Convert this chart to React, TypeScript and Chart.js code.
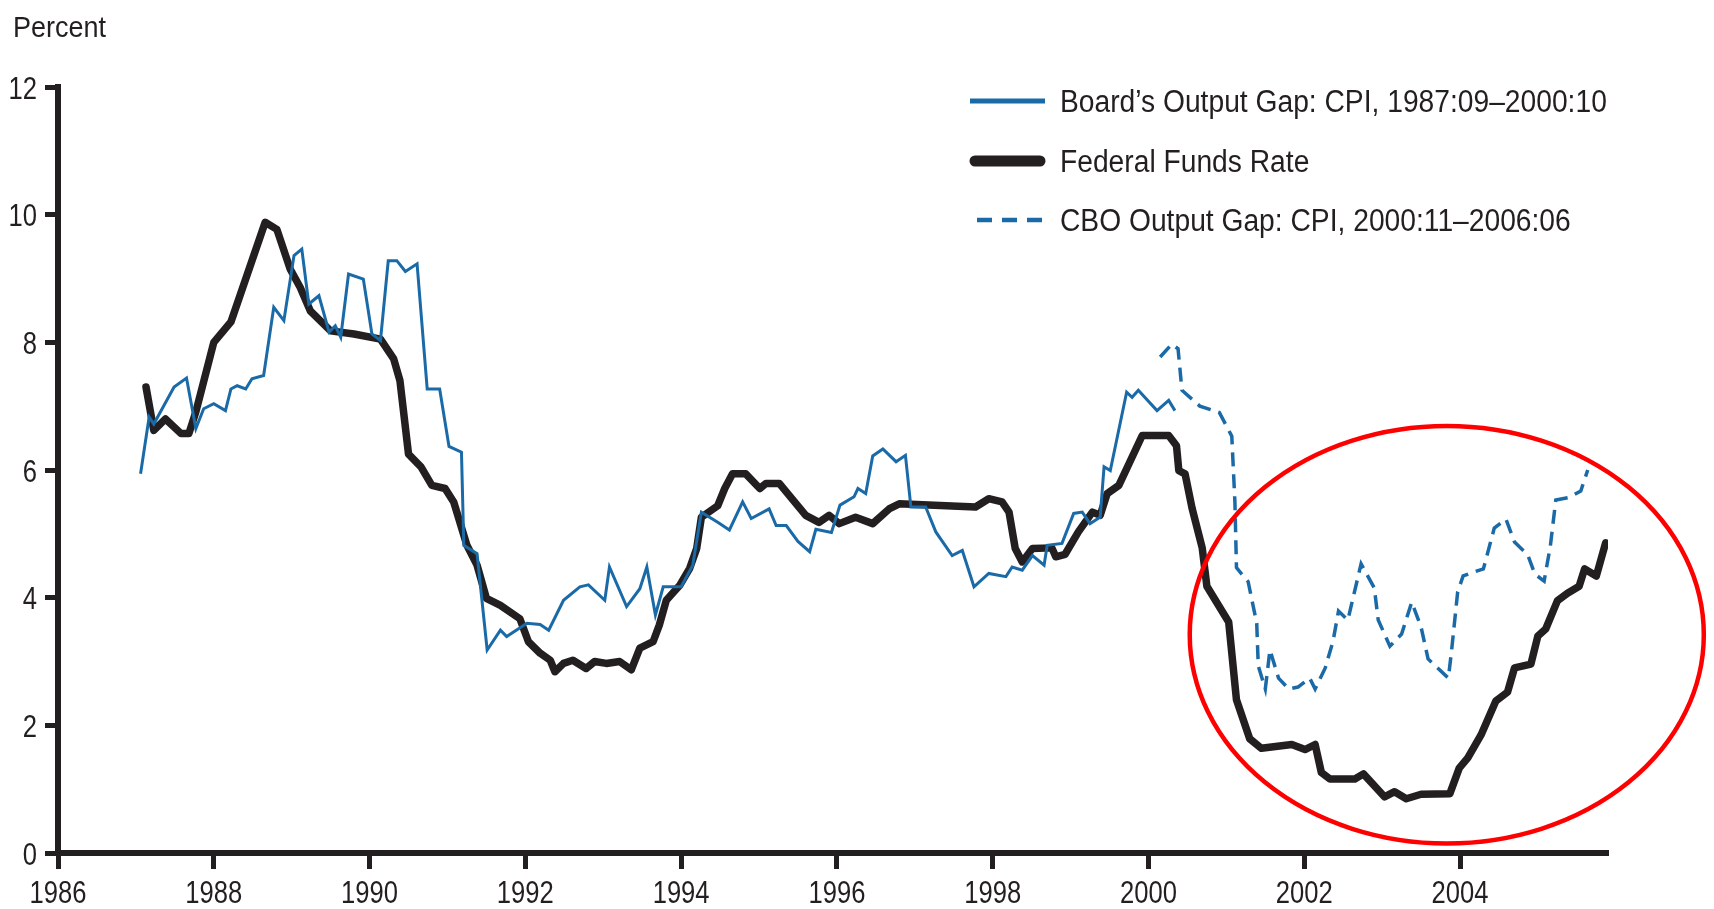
import React, { useEffect, useRef } from "react";
import { Chart, registerables } from "chart.js";

Chart.register(...registerables);

// ---------------- data ----------------
const fedFundsYears = [
  1987.13, 1987.23, 1987.38, 1987.58, 1987.68, 1987.77, 1988.0, 1988.22, 1988.66, 1988.81,
  1988.98, 1989.11, 1989.24, 1989.5, 1989.8, 1990.14, 1990.31, 1990.39, 1990.5, 1990.66,
  1990.8, 1990.97, 1991.08, 1991.25, 1991.38, 1991.5, 1991.68, 1991.93, 1992.04, 1992.19,
  1992.32, 1992.38, 1992.49, 1992.61, 1992.78, 1992.89, 1993.04, 1993.21, 1993.36, 1993.47,
  1993.64, 1993.72, 1993.81, 1993.98, 1994.11, 1994.2, 1994.26, 1994.47, 1994.56, 1994.66,
  1994.83, 1995.01, 1995.09, 1995.26, 1995.39, 1995.6, 1995.77, 1995.9, 1996.03, 1996.24,
  1996.46, 1996.67, 1996.8, 1997.78, 1997.95, 1998.12, 1998.21, 1998.29, 1998.38, 1998.51,
  1998.76, 1998.81, 1998.93, 1999.1, 1999.28, 1999.38, 1999.47, 1999.62, 1999.92, 2000.26,
  2000.36, 2000.39, 2000.47, 2000.56, 2000.69, 2000.75, 2001.03, 2001.13, 2001.3, 2001.45,
  2001.84, 2002.01, 2002.14, 2002.22, 2002.33, 2002.65, 2002.76, 2003.03, 2003.16, 2003.31,
  2003.5, 2003.87, 2003.99, 2004.1, 2004.27, 2004.46, 2004.61, 2004.7, 2004.91, 2005.0,
  2005.1, 2005.25, 2005.38, 2005.53, 2005.6, 2005.75, 2005.87,
];
const fedFundsRates = [
  7.3, 6.62, 6.8, 6.57, 6.57, 6.91, 8.0, 8.32, 9.88, 9.77,
  9.15, 8.86, 8.49, 8.18, 8.13, 8.05, 7.74, 7.4, 6.25, 6.05,
  5.76, 5.71, 5.5, 4.82, 4.51, 3.99, 3.88, 3.67, 3.31, 3.13,
  3.02, 2.84, 2.97, 3.02, 2.89, 3.0, 2.97, 3.0, 2.87, 3.21,
  3.31, 3.57, 3.96, 4.19, 4.46, 4.77, 5.26, 5.44, 5.71, 5.94,
  5.94, 5.71, 5.79, 5.79, 5.6, 5.29, 5.18, 5.29, 5.16, 5.26,
  5.16, 5.39, 5.47, 5.42, 5.55, 5.5, 5.34, 4.77, 4.56, 4.77,
  4.78, 4.64, 4.68, 5.03, 5.34, 5.29, 5.63, 5.76, 6.54, 6.54,
  6.38, 5.99, 5.94, 5.4, 4.78, 4.18, 3.62, 2.4, 1.79, 1.64,
  1.7, 1.62, 1.7, 1.26, 1.16, 1.16, 1.24, 0.88, 0.96, 0.85,
  0.92, 0.93, 1.33, 1.49, 1.85, 2.38, 2.52, 2.9, 2.96, 3.4,
  3.51, 3.95, 4.07, 4.18, 4.45, 4.34, 4.86,
];

const boardGapYears = [
  1987.06, 1987.17, 1987.23, 1987.49, 1987.65, 1987.77, 1987.87, 1988.0, 1988.15, 1988.22,
  1988.3, 1988.41, 1988.49, 1988.64, 1988.77, 1988.9, 1989.03, 1989.13, 1989.22, 1989.35,
  1989.48, 1989.56, 1989.63, 1989.73, 1989.92, 1990.03, 1990.14, 1990.24, 1990.35, 1990.46,
  1990.61, 1990.74, 1990.9, 1991.02, 1991.18, 1991.21, 1991.38, 1991.51, 1991.68, 1991.76,
  1992.02, 1992.19, 1992.3, 1992.49, 1992.7, 1992.81, 1993.02, 1993.08, 1993.3, 1993.47,
  1993.56, 1993.67, 1993.77, 1994.0, 1994.15, 1994.26, 1994.47, 1994.62, 1994.79, 1994.9,
  1995.13, 1995.22, 1995.35, 1995.5, 1995.65, 1995.73, 1995.93, 1996.04, 1996.22, 1996.27,
  1996.37, 1996.46, 1996.59, 1996.76, 1996.88, 1996.95, 1997.14, 1997.27, 1997.48, 1997.61,
  1997.76, 1997.95, 1998.17, 1998.25, 1998.38, 1998.51, 1998.66, 1998.7, 1998.89, 1999.04,
  1999.15, 1999.25, 1999.38, 1999.43, 1999.51, 1999.72, 1999.79, 1999.87, 2000.11, 2000.26,
  2000.34,
];
const boardGapRates = [
  5.94, 6.83, 6.72, 7.3, 7.44, 6.65, 6.96, 7.04, 6.93, 7.27,
  7.32, 7.27, 7.43, 7.48, 8.55, 8.34, 9.36, 9.46, 8.6, 8.73,
  8.16, 8.26, 8.08, 9.07, 8.99, 8.13, 8.03, 9.28, 9.28, 9.11,
  9.23, 7.27, 7.27, 6.37, 6.28, 4.82, 4.69, 3.18, 3.49, 3.39,
  3.6, 3.58, 3.49, 3.96, 4.17, 4.2, 3.96, 4.48, 3.86, 4.14,
  4.48, 3.73, 4.17, 4.17, 4.51, 5.34, 5.18, 5.06, 5.5, 5.24,
  5.39, 5.13, 5.13, 4.88, 4.72, 5.07, 5.02, 5.45, 5.58, 5.71,
  5.63, 6.22, 6.33, 6.13, 6.23, 5.42, 5.42, 5.03, 4.66, 4.74,
  4.17, 4.38, 4.33, 4.48, 4.43, 4.66, 4.51, 4.82, 4.85, 5.32,
  5.34, 5.16, 5.26, 6.05, 5.99, 7.22, 7.14, 7.25, 6.93, 7.09,
  6.93,
];

const cboGapYears = [
  2000.15, 2000.3, 2000.38, 2000.43, 2000.66, 2000.91, 2001.07, 2001.11, 2001.13, 2001.28,
  2001.39, 2001.41, 2001.5, 2001.56, 2001.67, 2001.8, 2001.92, 2002.07, 2002.14, 2002.27,
  2002.37, 2002.44, 2002.56, 2002.73, 2002.9, 2002.95, 2003.1, 2003.25, 2003.38, 2003.5,
  2003.59, 2003.85, 2003.89, 2003.97, 2004.04, 2004.17, 2004.3, 2004.44, 2004.59, 2004.7,
  2004.87, 2004.96, 2005.08, 2005.16, 2005.23, 2005.4, 2005.55, 2005.64,
];
const cboGapRates = [
  7.77, 7.97, 7.9, 7.25, 7.0, 6.9, 6.53, 5.5, 4.47, 4.25,
  3.6, 2.93, 2.57, 3.18, 2.74, 2.57, 2.6, 2.74, 2.57, 2.9,
  3.32, 3.79, 3.65, 4.53, 4.15, 3.65, 3.24, 3.43, 3.93, 3.54,
  3.04, 2.74, 3.15, 4.09, 4.34, 4.4, 4.45, 5.09, 5.23, 4.87,
  4.67, 4.37, 4.26, 4.81, 5.53, 5.57, 5.67, 6.0,
];

const xTickYears = [1986, 1988, 1990, 1992, 1994, 1996, 1998, 2000, 2002, 2004];
const yTickValues = [0, 2, 4, 6, 8, 10, 12];
const seriesLabels = [
  "Board\u2019s Output Gap: CPI, 1987:09\u20132000:10",
  "Federal Funds Rate",
  "CBO Output Gap: CPI, 2000:11\u20132006:06",
];
const yAxisTitle = "Percent";
// highlighted region (data coordinates)
const highlightCenter = [2003.83, 3.42];
const highlightRadius = [3.3, 3.27];

// ---------------- styles ----------------
const INK = "#231f20";
const BLUE = "#1b6aa8";
const RED = "#ff0000";
const FONT = "'Liberation Sans', Arial, sans-serif";
const LEGEND_SQUEEZE = 0.91;
const TICK_SQUEEZE = 0.8;

const toPoints = (xs: number[], ys: number[]) => xs.map((x, i) => ({ x, y: ys[i] }));

const legendStyles = [
  { color: BLUE, width: 5, dash: [] as number[], cap: "butt" as CanvasLineCap, x0: 970, x1: 1045 },
  { color: INK, width: 11, dash: [] as number[], cap: "round" as CanvasLineCap, x0: 975, x1: 1040 },
  { color: BLUE, width: 4.5, dash: [15, 10], cap: "butt" as CanvasLineCap, x0: 977, x1: 1045 },
];

const drawSqueezedText = (ctx: CanvasRenderingContext2D, text: string, x: number, y: number, squeeze: number) => {
  ctx.save();
  ctx.translate(x, y);
  ctx.scale(squeeze, 1);
  ctx.fillText(text, 0, 0);
  ctx.restore();
};

const overlayPlugin = {
  id: "overlay",
  afterDraw(chart: any) {
    const { ctx, scales } = chart;
    const xs = scales.x;
    const ys = scales.y;
    ctx.save();

    // tick labels (condensed), positioned by the chart's scales
    ctx.fillStyle = INK;
    ctx.font = `32px ${FONT}`;
    ctx.textBaseline = "alphabetic";
    ctx.textAlign = "center";
    xs.ticks.forEach((t: any) => {
      drawSqueezedText(ctx, String(t.value), xs.getPixelForValue(t.value), xs.bottom - 6, TICK_SQUEEZE);
    });
    ctx.textAlign = "right";
    ys.ticks.forEach((t: any) => {
      drawSqueezedText(ctx, String(t.value), ys.right - 21, ys.getPixelForValue(t.value) + 11.5, TICK_SQUEEZE);
    });

    // red ellipse
    const cx = xs.getPixelForValue(highlightCenter[0]);
    const cy = ys.getPixelForValue(highlightCenter[1]);
    const rx = xs.getPixelForValue(highlightCenter[0] + highlightRadius[0]) - cx;
    const ry = cy - ys.getPixelForValue(highlightCenter[1] + highlightRadius[1]);
    ctx.beginPath();
    ctx.ellipse(cx, cy, rx, ry, 0, 0, Math.PI * 2);
    ctx.strokeStyle = RED;
    ctx.lineWidth = 4.5;
    ctx.stroke();

    // axis title
    ctx.fillStyle = INK;
    ctx.font = `30px ${FONT}`;
    ctx.textAlign = "left";
    ctx.textBaseline = "alphabetic";
    drawSqueezedText(ctx, yAxisTitle, 13, 37, 0.9);

    // legend
    const rowY = [101, 161, 220];
    seriesLabels.forEach((label, i) => {
      const s = legendStyles[i];
      ctx.beginPath();
      ctx.setLineDash(s.dash);
      ctx.lineCap = s.cap;
      ctx.lineWidth = s.width;
      ctx.strokeStyle = s.color;
      ctx.moveTo(s.x0, rowY[i]);
      ctx.lineTo(s.x1, rowY[i]);
      ctx.stroke();
      ctx.setLineDash([]);
      ctx.fillStyle = INK;
      ctx.font = `31px ${FONT}`;
      drawSqueezedText(ctx, label, 1060, rowY[i] + 11, LEGEND_SQUEEZE);
    });
    ctx.restore();
  },
};

export default function App() {
  const canvasRef = useRef<HTMLCanvasElement | null>(null);

  useEffect(() => {
    if (!canvasRef.current) return;
    const chart = new Chart(canvasRef.current, {
      type: "line",
      data: {
        datasets: [
          {
            label: seriesLabels[0],
            data: toPoints(boardGapYears, boardGapRates),
            borderColor: BLUE,
            borderWidth: 3,
            pointRadius: 0,
            tension: 0,
            order: 0,
          },
          {
            label: seriesLabels[1],
            data: toPoints(fedFundsYears, fedFundsRates),
            borderColor: INK,
            borderWidth: 7.5,
            borderJoinStyle: "round",
            borderCapStyle: "round",
            pointRadius: 0,
            tension: 0,
            order: 2,
          },
          {
            label: seriesLabels[2],
            data: toPoints(cboGapYears, cboGapRates),
            borderColor: BLUE,
            borderWidth: 3.5,
            borderDash: [14, 8],
            pointRadius: 0,
            tension: 0,
            order: 1,
          },
        ],
      },
      options: {
        responsive: false,
        animation: false,
        devicePixelRatio: 1,
        layout: { padding: { left: 0, top: 87, right: 106, bottom: 0 } },
        plugins: {
          legend: { display: false },
          tooltip: { enabled: false },
          title: { display: false },
        },
        scales: {
          x: {
            type: "linear",
            min: 1986,
            max: 2005.9,
            afterBuildTicks: (scale: any) => {
              scale.ticks = xTickYears.map((v) => ({ value: v }));
            },
            afterFit: (scale: any) => {
              scale.height = 56;
            },
            border: { display: true, color: INK, width: 6 },
            grid: {
              display: true,
              drawOnChartArea: false,
              drawTicks: true,
              tickLength: 16,
              tickWidth: 5,
              tickColor: INK,
            },
            ticks: { display: false, autoSkip: false, maxRotation: 0 },
          },
          y: {
            type: "linear",
            min: 0,
            max: 12,
            afterBuildTicks: (scale: any) => {
              scale.ticks = yTickValues.map((v) => ({ value: v }));
            },
            afterFit: (scale: any) => {
              scale.width = 58;
            },
            border: { display: true, color: INK, width: 6 },
            grid: {
              display: true,
              drawOnChartArea: false,
              drawTicks: true,
              tickLength: 13,
              tickWidth: 5,
              tickColor: INK,
            },
            ticks: { display: false },
          },
        },
      },
      plugins: [overlayPlugin],
    } as any);
    return () => chart.destroy();
  }, []);

  return (
    <div style={{ position: "fixed", left: 0, top: 0, width: 1714, height: 909, background: "#fff" }}>
      <canvas ref={canvasRef} width={1714} height={909} style={{ display: "block" }} />
    </div>
  );
}
